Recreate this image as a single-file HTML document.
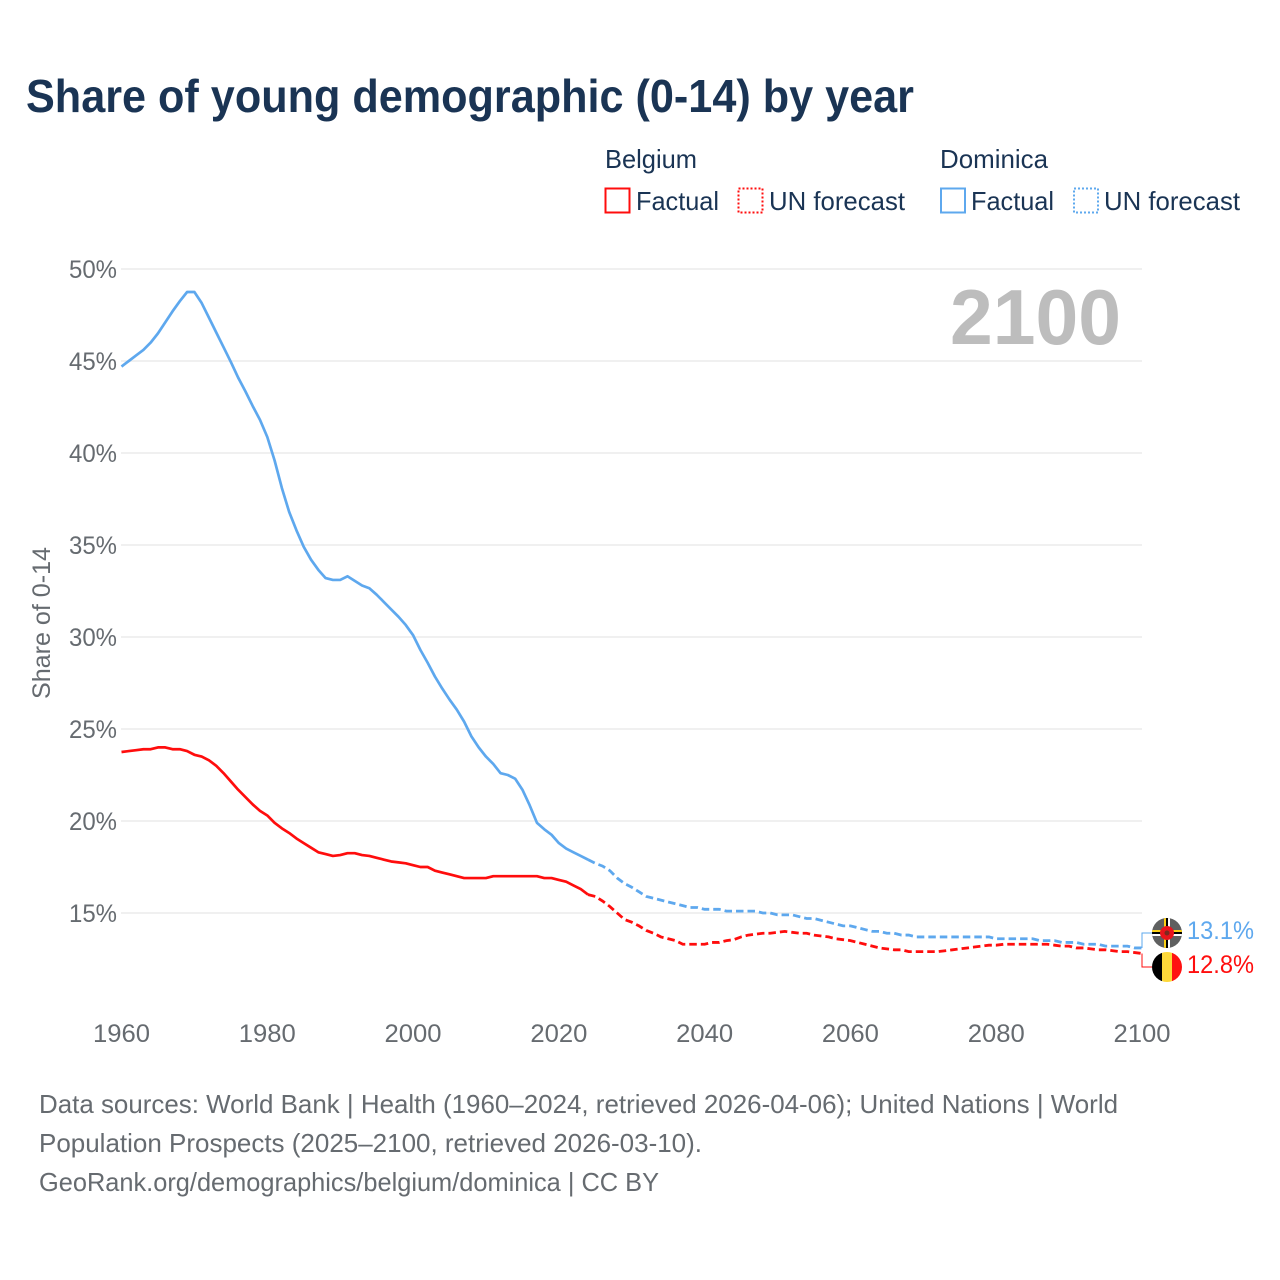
<!DOCTYPE html>
<html lang="en">
<head>
<meta charset="utf-8">
<title>Share of young demographic (0-14) by year</title>
<style>
html,body{margin:0;padding:0;background:#fff;}
svg{display:block;}
text{font-family:"Liberation Sans",sans-serif;}
</style>
</head>
<body>
<svg id="chart" xmlns="http://www.w3.org/2000/svg" width="1280" height="1280" viewBox="0 0 1280 1280">
  <rect x="0" y="0" width="1280" height="1280" fill="#fff"/>
  <text x="26" y="112" font-size="46" font-weight="700" fill="#1a3454" textLength="888" lengthAdjust="spacingAndGlyphs">Share of young demographic (0-14) by year</text>

  <g font-size="26" fill="#1a3454">
    <text x="605" y="168" textLength="92" lengthAdjust="spacingAndGlyphs">Belgium</text>
    <rect x="605.5" y="188.5" width="24" height="24" fill="none" stroke="#ff0d0d" stroke-width="2"/>
    <text x="636" y="210" textLength="83" lengthAdjust="spacingAndGlyphs">Factual</text>
    <rect x="738.5" y="188.5" width="24" height="24" fill="none" stroke="#ff0d0d" stroke-width="2" stroke-dasharray="2 2"/>
    <text x="769" y="210" textLength="136" lengthAdjust="spacingAndGlyphs">UN forecast</text>
    <text x="940" y="168" textLength="108" lengthAdjust="spacingAndGlyphs">Dominica</text>
    <rect x="941" y="188.5" width="24" height="24" fill="none" stroke="#5ea8ee" stroke-width="2"/>
    <text x="971" y="210" textLength="83" lengthAdjust="spacingAndGlyphs">Factual</text>
    <rect x="1074" y="188.5" width="24" height="24" fill="none" stroke="#5ea8ee" stroke-width="2" stroke-dasharray="2 2"/>
    <text x="1104" y="210" textLength="136" lengthAdjust="spacingAndGlyphs">UN forecast</text>
  </g>

  <g id="grid"></g>
  <g id="yticks"></g>
  <g id="xticks"></g>
  <text transform="translate(50,699) rotate(-90)" font-size="25" fill="#666b70" textLength="152" lengthAdjust="spacingAndGlyphs">Share of 0-14</text>
  <text x="950" y="344" font-size="78" font-weight="700" fill="#bdbdbd" textLength="171" lengthAdjust="spacingAndGlyphs">2100</text>

  <g id="series"></g>
  <g id="connectors"></g>

  <defs>
    <clipPath id="clip-dominica"><circle cx="1167" cy="933" r="15"/></clipPath>
    <clipPath id="clip-belgium"><circle cx="1167" cy="967" r="15"/></clipPath>
  </defs>
  <g clip-path="url(#clip-dominica)">
    <rect x="1152" y="918" width="30" height="30" fill="#5f6060"/>
    <rect x="1164" y="918" width="2" height="30" fill="#fcd116"/>
    <rect x="1166" y="918" width="2" height="30" fill="#000"/>
    <rect x="1168" y="918" width="2" height="30" fill="#fff"/>
    <rect x="1152" y="930" width="30" height="2" fill="#fcd116"/>
    <rect x="1152" y="932" width="30" height="2" fill="#000"/>
    <rect x="1152" y="934" width="30" height="2" fill="#fff"/>
    <circle cx="1167" cy="933" r="7" fill="#e8141c"/>
    <circle cx="1167" cy="933" r="2.5" fill="#7a2a20"/>
  </g>
  <g clip-path="url(#clip-belgium)">
    <rect x="1152" y="952" width="10" height="30" fill="#000"/>
    <rect x="1162" y="952" width="10" height="30" fill="#fdd83a"/>
    <rect x="1172" y="952" width="10" height="30" fill="#ff1111"/>
  </g>
  <text id="end-label-dominica" x="1187" y="939" font-size="25" fill="#5ea8ee" textLength="67" lengthAdjust="spacingAndGlyphs"></text>
  <text id="end-label-belgium" x="1187" y="973" font-size="25" fill="#ff0d0d" textLength="67" lengthAdjust="spacingAndGlyphs"></text>

  <g font-size="26" fill="#666b70">
    <text x="39" y="1113" textLength="1079" lengthAdjust="spacingAndGlyphs">Data sources: World Bank | Health (1960–2024, retrieved 2026-04-06); United Nations | World</text>
    <text x="39" y="1152" textLength="663" lengthAdjust="spacingAndGlyphs">Population Prospects (2025–2100, retrieved 2026-03-10).</text>
    <text x="39" y="1191" textLength="620" lengthAdjust="spacingAndGlyphs">GeoRank.org/demographics/belgium/dominica | CC BY</text>
  </g>
</svg>
<script>
const xTickYears = [1960, 1980, 2000, 2020, 2040, 2060, 2080, 2100];
const yTickValues = [15, 20, 25, 30, 35, 40, 45, 50];
const factualStartYear = 1960;
const forecastStartYear = 2025;
const dominicaFactual = [
  44.7,45.0,45.3,45.6,46.0,46.5,47.1,47.7,48.25,48.75,
  48.75,48.15,47.35,46.55,45.75,44.95,44.1,43.35,42.55,41.8,
  40.87,39.6,38.1,36.8,35.8,34.9,34.2,33.65,33.2,33.1,
  33.1,33.3,33.05,32.8,32.65,32.3,31.9,31.5,31.1,30.65,
  30.1,29.3,28.6,27.85,27.2,26.6,26.05,25.4,24.6,24.0,
  23.5,23.1,22.6,22.5,22.3,21.7,20.85,19.9,19.55,19.25,
  18.8,18.5,18.3,18.1,17.9
];
const dominicaForecast = [
  17.7,17.55,17.3,16.9,16.6,16.4,16.15,15.9,15.8,15.7,15.6,15.5,15.4,15.3,15.3,
  15.2,15.2,15.2,15.1,15.1,15.1,15.1,15.1,15.0,15.0,
  14.9,14.9,14.9,14.8,14.7,14.7,14.6,14.5,14.4,14.3,
  14.3,14.2,14.1,14.0,14.0,13.9,13.9,13.8,13.8,13.7,
  13.7,13.7,13.7,13.7,13.7,13.7,13.7,13.7,13.7,13.7,
  13.6,13.6,13.6,13.6,13.6,13.6,13.5,13.5,13.5,13.4,
  13.4,13.4,13.3,13.3,13.3,13.2,13.2,13.2,13.2,13.1,13.1
];
const belgiumFactual = [
  23.75,23.8,23.85,23.9,23.9,24.0,24.0,23.9,23.9,23.8,
  23.6,23.5,23.3,23.0,22.6,22.15,21.7,21.3,20.9,20.55,
  20.3,19.9,19.6,19.35,19.05,18.8,18.55,18.3,18.2,18.1,
  18.15,18.25,18.25,18.15,18.1,18.0,17.9,17.8,17.75,17.7,
  17.6,17.5,17.5,17.3,17.2,17.1,17.0,16.9,16.9,16.9,
  16.9,17.0,17.0,17.0,17.0,17.0,17.0,17.0,16.9,16.9,
  16.8,16.7,16.5,16.3,16.0
];
const belgiumForecast = [
  15.9,15.65,15.35,15.0,14.65,14.5,14.3,14.05,13.9,13.7,13.6,13.5,13.3,13.3,13.3,
  13.3,13.4,13.4,13.5,13.55,13.7,13.8,13.85,13.9,13.9,
  13.95,14.0,13.95,13.9,13.9,13.8,13.75,13.7,13.6,13.55,
  13.5,13.4,13.3,13.2,13.1,13.05,13.0,13.0,12.9,12.9,
  12.9,12.9,12.9,12.95,13.0,13.05,13.1,13.15,13.2,13.25,
  13.25,13.3,13.3,13.3,13.3,13.3,13.3,13.3,13.25,13.2,
  13.2,13.1,13.1,13.05,13.0,13.0,12.95,12.9,12.9,12.85,12.8
];
const endLabelDominica = "13.1%";
const endLabelBelgium = "12.8%";

const NS = "http://www.w3.org/2000/svg";
function xScale(year) { return 121.5 + (year - 1960) * (1142 - 121.5) / 140; }
function yScale(value) { return 913 - (value - 15) * (913 - 269) / 35; }
function make(tag, attrs, parent) {
  const el = document.createElementNS(NS, tag);
  for (const k in attrs) el.setAttribute(k, attrs[k]);
  parent.appendChild(el);
  return el;
}
function linePath(startYear, values, prefixYear, prefixValue) {
  const pts = [];
  if (prefixYear !== undefined) pts.push([xScale(prefixYear), yScale(prefixValue)]);
  values.forEach(function (v, i) { pts.push([xScale(startYear + i), yScale(v)]); });
  return pts.map(function (p, i) { return (i ? "L" : "M") + p[0].toFixed(2) + " " + p[1].toFixed(2); }).join(" ");
}

const grid = document.getElementById("grid");
const yticks = document.getElementById("yticks");
yTickValues.forEach(function (v) {
  const line = make("line", {x1: 121, x2: 1142, y1: yScale(v), y2: yScale(v), stroke: "#ebebeb", "stroke-width": 1.5}, grid);
  
  
  const t = make("text", {x: 117, y: yScale(v) + 9, "text-anchor": "end", "font-size": 25, fill: "#666b70", textLength: 48, lengthAdjust: "spacingAndGlyphs"}, yticks);
  
  
  t.textContent = v + "%";
});

const xticks = document.getElementById("xticks");
xTickYears.forEach(function (y) {
  const t = make("text", {x: xScale(y), y: 1042, "text-anchor": "middle", "font-size": 25, fill: "#666b70", textLength: 57, lengthAdjust: "spacingAndGlyphs"}, xticks);
  
  
  t.textContent = y;
});

const series = document.getElementById("series");
const blue = "#5ea8ee", red = "#ff0d0d";
const lineDominicaFactual = make("path", {d: linePath(factualStartYear, dominicaFactual), fill: "none", stroke: blue, "stroke-width": 2.7, "stroke-linejoin": "round"}, series);


const lineDominicaForecast = make("path", {d: linePath(forecastStartYear, dominicaForecast, forecastStartYear - 1, dominicaFactual[dominicaFactual.length - 1]), fill: "none", stroke: blue, "stroke-width": 2.8, "stroke-dasharray": "7.5 4"}, series);


const lineBelgiumFactual = make("path", {d: linePath(factualStartYear, belgiumFactual), fill: "none", stroke: red, "stroke-width": 2.7, "stroke-linejoin": "round"}, series);


const lineBelgiumForecast = make("path", {d: linePath(forecastStartYear, belgiumForecast, forecastStartYear - 1, belgiumFactual[belgiumFactual.length - 1]), fill: "none", stroke: red, "stroke-width": 2.8, "stroke-dasharray": "7.5 4"}, series);



const connectors = document.getElementById("connectors");
const xEnd = xScale(2100);
const connectorDominica = make("path", {d: "M" + xEnd + " " + yScale(dominicaForecast[dominicaForecast.length - 1]) + " V933 H1152", fill: "none", stroke: blue, "stroke-width": 1}, connectors);


const connectorBelgium = make("path", {d: "M" + xEnd + " " + yScale(belgiumForecast[belgiumForecast.length - 1]) + " V967 H1152", fill: "none", stroke: red, "stroke-width": 1}, connectors);



document.getElementById("end-label-dominica").textContent = endLabelDominica;
document.getElementById("end-label-belgium").textContent = endLabelBelgium;
</script>
</body>
</html>
